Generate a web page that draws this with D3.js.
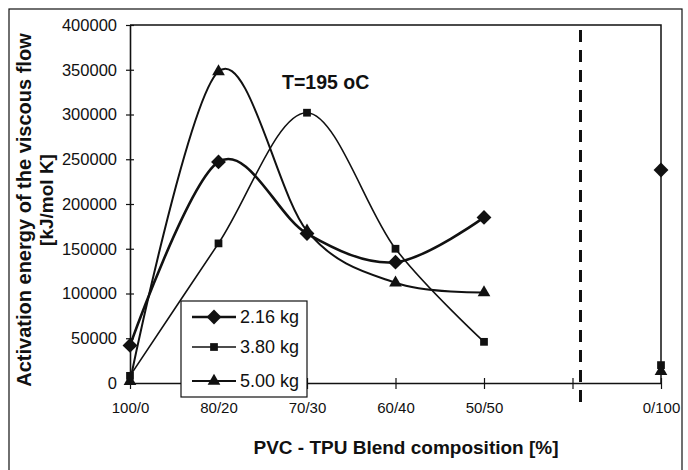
<!DOCTYPE html>
<html>
<head>
<meta charset="utf-8">
<script src="https://cdn.jsdelivr.net/npm/d3@7"></script>
<style>
  body { margin: 0; background: #fff; }
  svg { font-family: "Liberation Sans", Arial, sans-serif; }
</style>
</head>
<body>
<svg id="chart" width="688" height="470"></svg>
<script>
// Category labels (one empty slot before 0/100, where the dashed divider sits)
const categories = ["100/0", "80/20", "70/30", "60/40", "50/50", "", "0/100"];
const yTicks = [0, 50000, 100000, 150000, 200000, 250000, 300000, 350000, 400000];

// Activation energy values per load, null = no data
const load216 = [42000, 247000, 167000, 135000, 185000, null, 238000];
const load380 = [8000, 156000, 302000, 150000, 46000, null, 20000];
const load500 = [2000, 348000, 170000, 112000, 101000, null, 13000];

const seriesNames = ["2.16 kg", "3.80 kg", "5.00 kg"];

// Excel style diamond: a square turned 45 degrees (d3's own diamond is too narrow)
const wideDiamond = {
  draw(ctx, size) {
    const r = Math.sqrt(size / 2);
    ctx.moveTo(0, -r);
    ctx.lineTo(r, 0);
    ctx.lineTo(0, r);
    ctx.lineTo(-r, 0);
    ctx.closePath();
  }
};

const series = [
  {name: seriesNames[0], values: load216, symbol: wideDiamond, size: 110, width: 2.6},
  {name: seriesNames[1], values: load380, symbol: d3.symbolSquare, size: 60, width: 1.6},
  {name: seriesNames[2], values: load500, symbol: d3.symbolTriangle, size: 70, width: 2}
];

const svg = d3.select("#chart");

// plot area
const plotL = 130, plotR = 661, plotT = 25, plotB = 383;

const x = d3.scalePoint().domain(d3.range(categories.length)).range([plotL, plotR]);
const y = d3.scaleLinear().domain([0, 400000]).range([plotB, plotT]);

// outer frame
svg.append("rect")
  .attr("x", 9).attr("y", 9).attr("width", 673).attr("height", 480)
  .attr("fill", "none").attr("stroke", "#111").attr("stroke-width", 1.2);

// plot border (top and right)
svg.append("path")
  .attr("d", `M${plotL},${plotT}H${plotR}V${plotB}`)
  .attr("fill", "none").attr("stroke", "#111").attr("stroke-width", 1.5);

// y axis
const yAxis = svg.append("g")
  .attr("transform", `translate(${plotL},0)`)
  .call(d3.axisLeft(y).tickValues(yTicks).tickFormat(d3.format("d")).tickSizeInner(4).tickSizeOuter(0).tickPadding(9));
yAxis.selectAll(".tick line").attr("x2", 4).attr("x1", -4);

// x axis
const xAxis = svg.append("g")
  .attr("transform", `translate(0,${plotB})`)
  .call(d3.axisBottom(x).tickFormat(i => categories[i]).tickSizeInner(5).tickSizeOuter(0).tickPadding(14));
xAxis.selectAll(".tick line").attr("y1", -5).attr("y2", 6);

svg.selectAll(".domain").attr("stroke", "#111").attr("stroke-width", 1.6);
svg.selectAll(".tick line").attr("stroke", "#111").attr("stroke-width", 1.2);
yAxis.selectAll("text").attr("font-size", 16.5).attr("fill", "#111");
xAxis.selectAll("text").attr("font-size", 15).attr("fill", "#111");

// dashed divider
svg.append("line")
  .attr("x1", x(5) + 8).attr("x2", x(5) + 8)
  .attr("y1", plotT + 5).attr("y2", plotB + 26)
  .attr("stroke", "#111").attr("stroke-width", 3)
  .attr("stroke-dasharray", "12,8");

// smoothed lines
const line = d3.line()
  .defined(d => d != null)
  .x((d, i) => x(i))
  .y(d => y(d))
  .curve(d3.curveCatmullRom.alpha(0));

series.forEach(s => {
  const pts = s.values.map((v, i) => i < 5 ? v : null);
  svg.append("path")
    .attr("d", line(pts))
    .attr("fill", "none")
    .attr("stroke", "#111")
    .attr("stroke-width", s.width);
});

// markers
series.forEach(s => {
  svg.append("g").selectAll("path")
    .data(s.values.map((v, i) => ({v, i})).filter(d => d.v != null))
    .join("path")
    .attr("transform", d => `translate(${x(d.i)},${y(d.v)})`)
    .attr("d", d3.symbol(s.symbol, s.size))
    .attr("fill", "#111");
});

// annotation
svg.append("text")
  .attr("x", 282).attr("y", 89)
  .attr("font-size", 19.5).attr("font-weight", "bold").attr("fill", "#111")
  .text("T=195 oC");

// legend
const lg = svg.append("g");
lg.append("rect")
  .attr("x", 181).attr("y", 301).attr("width", 126).attr("height", 96)
  .attr("fill", "#fff").attr("stroke", "#111").attr("stroke-width", 1.2);
const legendY = [317, 347, 381];
series.forEach((s, k) => {
  lg.append("line")
    .attr("x1", 192).attr("x2", 236)
    .attr("y1", legendY[k]).attr("y2", legendY[k])
    .attr("stroke", "#111").attr("stroke-width", s.width);
  lg.append("path")
    .attr("transform", `translate(214,${legendY[k]})`)
    .attr("d", d3.symbol(s.symbol, s.size))
    .attr("fill", "#111");
  lg.append("text")
    .attr("x", 240).attr("y", legendY[k])
    .attr("dy", "0.35em")
    .attr("font-size", 18).attr("fill", "#111")
    .text(s.name);
});

// axis titles
svg.append("text")
  .attr("transform", "translate(31,210) rotate(-90)")
  .attr("text-anchor", "middle")
  .attr("font-size", 20).attr("font-weight", "bold").attr("fill", "#111")
  .text("Activation energy of the viscous flow");
svg.append("text")
  .attr("transform", "translate(53,200) rotate(-90)")
  .attr("text-anchor", "middle")
  .attr("font-size", 19).attr("font-weight", "bold").attr("fill", "#111")
  .text("[kJ/mol K]");

svg.append("text")
  .attr("x", 406).attr("y", 454)
  .attr("text-anchor", "middle")
  .attr("font-size", 19).attr("font-weight", "bold").attr("fill", "#111")
  .text("PVC - TPU Blend composition [%]");
</script>
</body>
</html>
